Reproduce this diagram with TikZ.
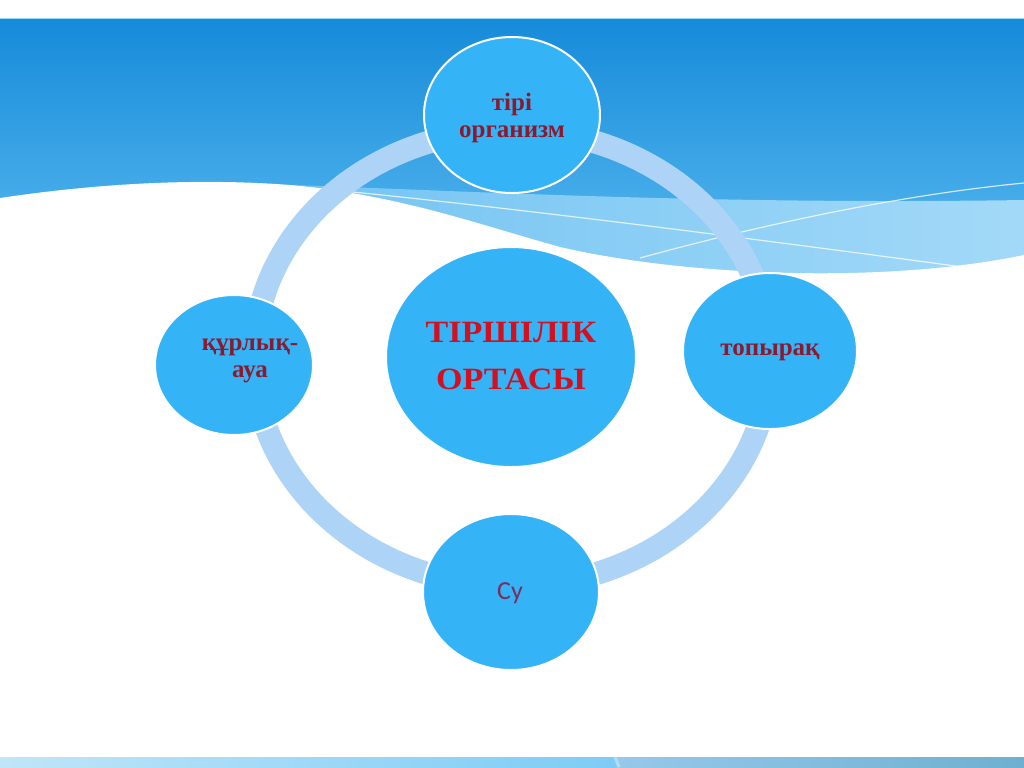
\documentclass[tikz,border=0pt]{standalone}
\usepackage{fontspec}
\setmainfont{Liberation Serif}
\newfontfamily\labelfont{Liberation Serif}
\newfontfamily\titlefont[FakeStretch=1.1]{Liberation Serif}
\newfontfamily\sufont{Carlito}
\usetikzlibrary{shapes.geometric}
\definecolor{skytop}{HTML}{168BDA}
\definecolor{skybot}{HTML}{5DBCF0}
\definecolor{bandmid}{HTML}{74C4F2}
\definecolor{bandlight}{HTML}{A3D9F8}
\definecolor{ringblue}{HTML}{ADD4F7}
\definecolor{nodeblue}{HTML}{35B3F7}
\definecolor{labelred}{HTML}{8B1A2E}
\definecolor{titlered}{HTML}{D2101F}
\definecolor{supurple}{HTML}{7B2D5B}
\definecolor{barA}{HTML}{C0E5F8}
\definecolor{barB}{HTML}{7DCCF5}
\definecolor{barC}{HTML}{96C8EA}
\definecolor{barD}{HTML}{6FB0CF}
\tikzset{
  bubble/.style={ellipse, fill=nodeblue, draw=white, line width=1pt, inner sep=0pt},
  smalllabel/.style={text=labelred, font=\labelfont\bfseries\fontsize{12.5}{13.5}\selectfont, align=center},
  titlelabel/.style={text=titlered, font=\titlefont\bfseries\fontsize{15.5}{23.5}\selectfont, align=center},
  sulabel/.style={text=supurple, font=\sufont\fontsize{13}{15}\selectfont},
  thinwave/.style={white, line width=0.6pt, opacity=0.75}
}
\begin{document}
\begin{tikzpicture}[x=0.5pt,y=-0.5pt]
\useasboundingbox (0,0) rectangle (1024,767);
\fill[white] (0,0) rectangle (1024,767);
% blue sky area
\shade[top color=skytop, bottom color=skybot] (0,19) rectangle (1024,290);
% light band
\shade[left color=bandmid, right color=bandlight]
  (290,185) .. controls (450,190) and (700,205) .. (1024,200) -- (1024,290) -- (290,290) -- cycle;
% white lower area
\fill[white] (0,198) .. controls (100,183) and (200,178) .. (290,185)
  .. controls (400,195) and (480,225) .. (560,247)
  .. controls (680,275) and (880,285) .. (1024,255) -- (1024,755) -- (0,755) -- cycle;
% thin white lines
\draw[thinwave] (290,186) .. controls (500,205) and (800,245) .. (1000,272);
\draw[thinwave] (640,258) .. controls (760,225) and (900,195) .. (1024,183);
% top rule line
\draw[color=skybot!60!white, line width=0.6pt] (0,18.5) -- (1024,18.5);
% bottom bar
\shade[left color=barA, right color=barB] (0,757) rectangle (617,767);
\shade[left color=barC, right color=barD] (617,757) rectangle (1024,767);
\begin{scope}
\clip (0,757) rectangle (1024,767);
\draw[white, opacity=0.35, line width=1.5pt] (615,757) -- (619,767);
\end{scope}
% ring
\draw[ringblue, line width=11.5pt] (512,358) ellipse [x radius=258, y radius=228];
% bubbles
\node[bubble, minimum width=88pt, minimum height=78pt] (top) at (512,115) {};
\node[bubble, minimum width=125pt, minimum height=110pt] (center) at (511,357) {};
\node[bubble, minimum width=79pt, minimum height=70pt] (left) at (234,365) {};
\node[bubble, minimum width=87pt, minimum height=78pt] (right) at (770,351) {};
\node[bubble, minimum width=88pt, minimum height=78pt] (bottom) at (511,592) {};
% texts
\node[smalllabel] (toptext) at (512,118) {тірі\\организм};
\node[titlelabel] (centertext) at (511,356) {ТІРШІЛІК\\ОРТАСЫ};
\node[smalllabel] (lefttext) at (250,361) {құрлық-\\ауа};
\node[smalllabel] (righttext) at (770,352) {топырақ};
\node[sulabel] (bottomtext) at (510,593) {Су};
\end{tikzpicture}
\end{document}
